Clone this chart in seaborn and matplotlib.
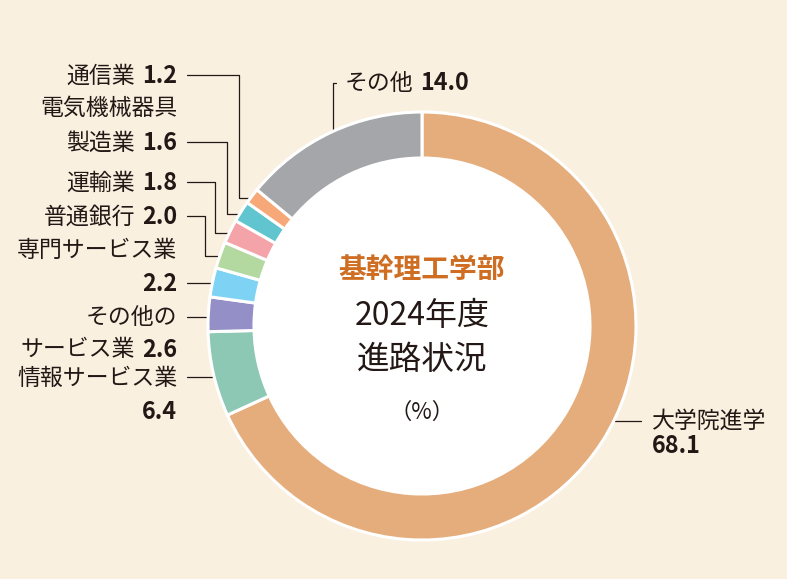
import matplotlib
matplotlib.use('Agg')
import numpy as np
import matplotlib.pyplot as plt
import seaborn as sns
from matplotlib.patches import Circle

# data (%)
categories = ['大学院進学', '情報サービス業', 'その他のサービス業', '専門サービス業',
              '普通銀行', '運輸業', '電気機械器具製造業', '通信業', 'その他']
shares = [68.1, 6.4, 2.6, 2.2, 2.0, 1.8, 1.6, 1.2, 14.0]
colors = ['#E6AD7C', '#8CC8B4', '#948FC6', '#7ED3F5', '#B3D9A0',
          '#F4A4A8', '#60C5CF', '#F6A878', '#A5A6AA']
title_lines = ['基幹理工学部', '2024年度', '進路状況', '（%）']

sns.set_theme(style='white')
plt.rcParams['font.family'] = ['Noto Sans CJK JP', 'DejaVu Sans']

W, H = 787, 579
BG = '#FAF0E0'
INK = '#231815'
ACCENT = '#CF6E22'
CX, CY, R, RING = 422, 326, 214, 46
FS_NAME = 16.5
FS_NUM = 16.8


def Y(py):
    return H - py


# label layout: rows of (regular text, bold number), anchor x, row y's, side,
# leader line y, elbow x (None = straight line)
layout = {
    '大学院進学': dict(rows=[('大学院進学', ''), ('', '#')], x=652, ys=[421, 446], ha='left', ly=421, ex=None),
    '情報サービス業': dict(rows=[('情報サービス業', ''), ('', '#')], x=177, ys=[378, 412], ha='right', ly=377, ex=None),
    'その他のサービス業': dict(rows=[('その他の', ''), ('サービス業', '#')], x=177, ys=[317, 350], ha='right', ly=317, ex=None),
    '専門サービス業': dict(rows=[('専門サービス業', ''), ('', '#')], x=177, ys=[250, 284], ha='right', ly=283, ex=None),
    '普通銀行': dict(rows=[('普通銀行', '#')], x=177, ys=[217], ha='right', ly=216, ex=205),
    '運輸業': dict(rows=[('運輸業', '#')], x=177, ys=[183], ha='right', ly=182, ex=215),
    '電気機械器具製造業': dict(rows=[('電気機械器具', ''), ('製造業', '#')], x=177, ys=[108, 143], ha='right', ly=142, ex=227),
    '通信業': dict(rows=[('通信業', '#')], x=177, ys=[76], ha='right', ly=75, ex=239),
    'その他': dict(rows=[('その他', '#')], x=345, ys=[83], ha='left', ly=83, ex=325),
}

fig = plt.figure(figsize=(W / 100, H / 100), dpi=100, facecolor=BG)
ax = fig.add_axes([0, 0, 1, 1])

wedges, _ = ax.pie(shares, colors=colors, startangle=90, counterclock=False,
                   radius=R, center=(CX, Y(CY)),
                   wedgeprops=dict(width=RING, edgecolor='white', linewidth=2.2))
for w in wedges:
    w.set_zorder(3)
ax.add_patch(Circle((CX, Y(CY)), R - RING + 1, facecolor='white', edgecolor='none', zorder=2))

ax.set_xlim(0, W)
ax.set_ylim(0, H)
ax.set_aspect('auto')
ax.axis('off')

fig.canvas.draw()
renderer = fig.canvas.get_renderer()


def put_row(x, py, name, num, ha):
    gap = 7
    if ha == 'right':
        xr = x
        if num:
            t = ax.text(xr, Y(py), num, ha='right', va='center', fontsize=FS_NUM,
                        fontweight='bold', color=INK)
            xr -= t.get_window_extent(renderer).width + gap
        if name:
            ax.text(xr, Y(py), name, ha='right', va='center', fontsize=FS_NAME, color=INK)
    else:
        xl = x
        if name:
            t = ax.text(xl, Y(py), name, ha='left', va='center', fontsize=FS_NAME, color=INK)
            xl += t.get_window_extent(renderer).width + gap
        if num:
            ax.text(xl, Y(py), num, ha='left', va='center', fontsize=FS_NUM,
                    fontweight='bold', color=INK)


for cat, val, w in zip(categories, shares, wedges):
    lay = layout[cat]
    for (name, num), py in zip(lay['rows'], lay['ys']):
        put_row(lay['x'], py, name, f'{val:.1f}' if num else '', lay['ha'])

    ang = np.deg2rad((w.theta1 + w.theta2) / 2)
    ly = lay['ly']
    if cat == '大学院進学':
        xe = CX + np.sqrt(R ** 2 - (ly - CY) ** 2) - 4
        ax.plot([xe, 641], [Y(ly), Y(ly)], color=INK, lw=0.9, zorder=1)
    elif cat == 'その他':
        px, py = CX + (R - 4) * np.cos(ang), CY - (R - 4) * np.sin(ang)
        ax.plot([px, px, 336], [Y(py), Y(ly), Y(ly)], color=INK, lw=0.9, zorder=1)
    elif lay['ex'] is None:
        xe = CX - np.sqrt(R ** 2 - (ly - CY) ** 2) + 4
        ax.plot([187, xe], [Y(ly), Y(ly)], color=INK, lw=0.9, zorder=1)
    else:
        px, py = CX + (R - 4) * np.cos(ang), CY - (R - 4) * np.sin(ang)
        ex = lay['ex']
        ax.plot([187, ex, ex, px], [Y(ly), Y(ly), Y(py), Y(py)], color=INK, lw=0.9, zorder=1)

# centre titles
ax.text(CX, Y(270), title_lines[0], ha='center', va='center', fontsize=20,
        fontweight='bold', color=ACCENT, zorder=4)
ax.text(CX, Y(316), title_lines[1], ha='center', va='center', fontsize=23,
        color=INK, zorder=4)
ax.text(CX, Y(360), title_lines[2], ha='center', va='center', fontsize=23.5,
        color=INK, zorder=4)
ax.text(CX, Y(412), title_lines[3], ha='center', va='center', fontsize=16,
        color=INK, zorder=4)

fig.savefig('out.png', dpi=100, facecolor=BG)
